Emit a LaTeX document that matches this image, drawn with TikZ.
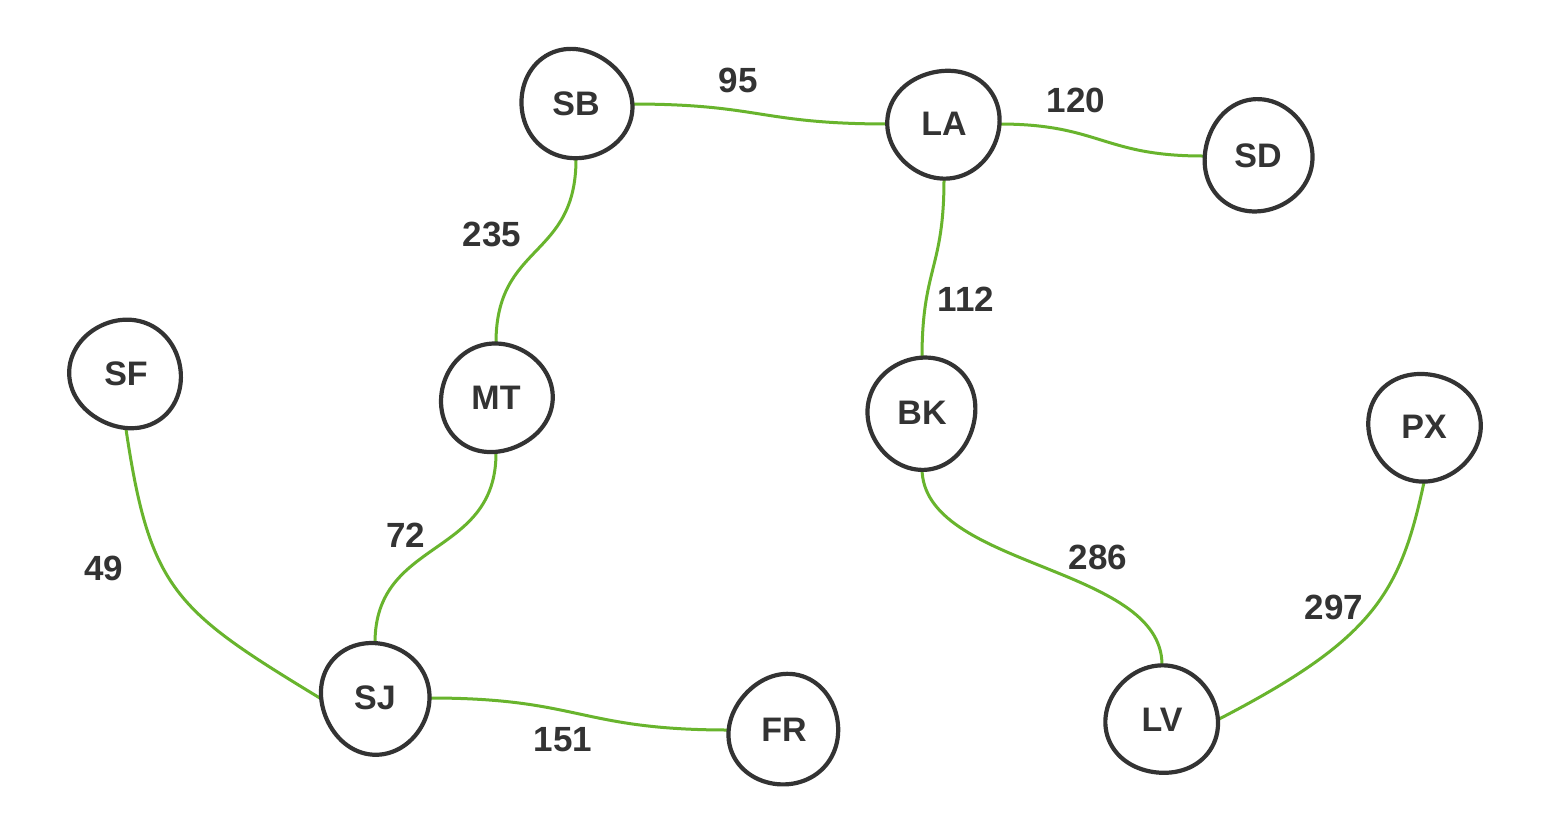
\documentclass[tikz,border=0pt]{standalone}
\usepackage{fontspec}
\setmainfont{Liberation Sans}
\definecolor{edgegreen}{RGB}{104,180,45}
\definecolor{ink}{RGB}{51,51,51}
\tikzset{
  city/.style={circle, minimum size=110pt, inner sep=0pt, text=ink, font=\fontsize{34}{40}\selectfont\bfseries},
  road/.style={draw=edgegreen, line width=3pt},
  blobline/.style={draw=ink, line width=4.2pt, line join=round},
  weight/.style={text=ink, font=\fontsize{35}{40}\selectfont\bfseries, inner sep=0pt}
}
\newcommand\blobat[2]{%
  \begin{scope}[shift={(#1.center)}, rotate=#2]
    \draw[blobline] plot[domain=0:360, samples=91, smooth cycle] ({\x}:{55+1.3*sin(2*\x)+1.0*sin(3*\x+40)});
  \end{scope}}
\begin{document}
\begin{tikzpicture}[x=1pt, y=-1pt]
\useasboundingbox (0,0) rectangle (1550,812);
\fill[white] (0,0) rectangle (1550,812);
% nodes
\node[city] (SB) at (576,104) {SB};
\node[city] (LA) at (944,124) {LA};
\node[city] (SD) at (1258,156) {SD};
\node[city] (SF) at (126,374) {SF};
\node[city] (MT) at (496,398) {MT};
\node[city] (BK) at (922,413) {BK};
\node[city] (PX) at (1424,427) {PX};
\node[city] (SJ) at (375,698) {SJ};
\node[city] (FR) at (784,730) {FR};
\node[city] (LV) at (1162,720) {LV};
% connectors
\draw[road] (SB.east) .. controls +(130,0) and +(-130,0) .. (LA.west);
\draw[road] (LA.east) .. controls +(100,0) and +(-100,0) .. (SD.west);
\draw[road] (SB.south) .. controls +(0,100) and +(0,-100) .. (MT.north);
\draw[road] (LA.south) .. controls +(0,90) and +(0,-90) .. (BK.north);
\draw[road] (MT.south) .. controls +(0,105) and +(0,-105) .. (SJ.north);
\draw[road] (SJ.east) .. controls +(150,0) and +(-150,0) .. (FR.west);
\draw[road] (BK.south) .. controls +(0,100) and +(0,-100) .. (LV.north);
\draw[road] (SF.south) .. controls (150,590) and (175,610) .. (SJ.west);
\draw[road] (PX.south) .. controls (1400,595) and (1372,640) .. (LV.east);
% blobs
\blobat{SB}{10}
\blobat{LA}{60}
\blobat{SD}{120}
\blobat{SF}{200}
\blobat{MT}{250}
\blobat{BK}{300}
\blobat{PX}{35}
\blobat{SJ}{160}
\blobat{FR}{95}
\blobat{LV}{220}
% weights
\node[weight] (w95) at (738,80) {95};
\node[weight] (w120) at (1076,100) {120};
\node[weight] (w235) at (492,234) {235};
\node[weight] (w112) at (966,299) {112};
\node[weight] (w49) at (104,568) {49};
\node[weight] (w72) at (406,535) {72};
\node[weight] (w151) at (563,740) {151};
\node[weight] (w286) at (1098,557) {286};
\node[weight] (w297) at (1334,607) {297};
\end{tikzpicture}
\end{document}
